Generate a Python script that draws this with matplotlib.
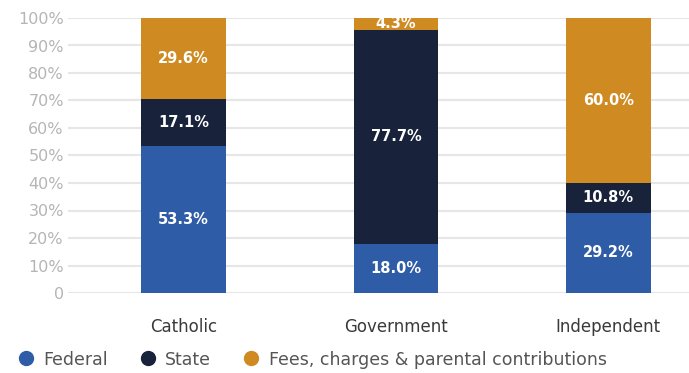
import numpy as np
import matplotlib.pyplot as plt
from matplotlib.lines import Line2D

sectors = ["Catholic", "Government", "Independent"]
federal = [53.3, 18.0, 29.2]
state = [17.1, 77.7, 10.8]
fees = [29.6, 4.3, 60.0]
series_names = ["Federal", "State", "Fees, charges & parental contributions"]
colors = ["#2f5ca6", "#18223a", "#d08a22"]

fig = plt.figure(figsize=(6.89, 3.73), dpi=100)
ax = fig.add_axes([68 / 689, 80 / 373, 1 - 68 / 689, 275 / 373])

x = np.arange(len(sectors))
bottom = np.zeros(len(sectors))
for vals, col in zip([federal, state, fees], colors):
    vals = np.array(vals)
    ax.bar(x, vals, 0.4, bottom=bottom, color=col, zorder=3)
    for xi, b, v in zip(x, bottom, vals):
        ax.text(xi, b + v / 2, f"{v:.1f}%", ha="center", va="center",
                color="white", fontsize=10.5, fontweight="bold", zorder=4)
    bottom += vals

ax.set_xlim(-0.545, 2.38)
ax.set_ylim(0, 100)
ax.set_yticks(np.arange(0, 101, 10))
ax.set_yticklabels(["0"] + [f"{v}%" for v in range(10, 101, 10)])
ax.grid(axis="y", color="#e6e6e6", linewidth=1.5, zorder=0)
ax.tick_params(axis="y", length=0, colors="#b5b5b5", labelsize=11.5, pad=3)
ax.tick_params(axis="x", length=0, colors="#3a3a3a", labelsize=12, pad=18)
ax.set_xticks(x)
ax.set_xticklabels(sectors)
for s in ax.spines.values():
    s.set_visible(False)

handles = [Line2D([], [], marker="o", linestyle="", markersize=10,
                  markerfacecolor=c, markeredgecolor=c) for c in colors]
fig.legend(handles, series_names, loc="lower left", bbox_to_anchor=(0.0, -0.03),
           ncol=3, frameon=False, fontsize=12.5, labelcolor="#555555",
           handletextpad=0.4, columnspacing=1.7, handlelength=1.2)

fig.savefig("out.png", dpi=100)
